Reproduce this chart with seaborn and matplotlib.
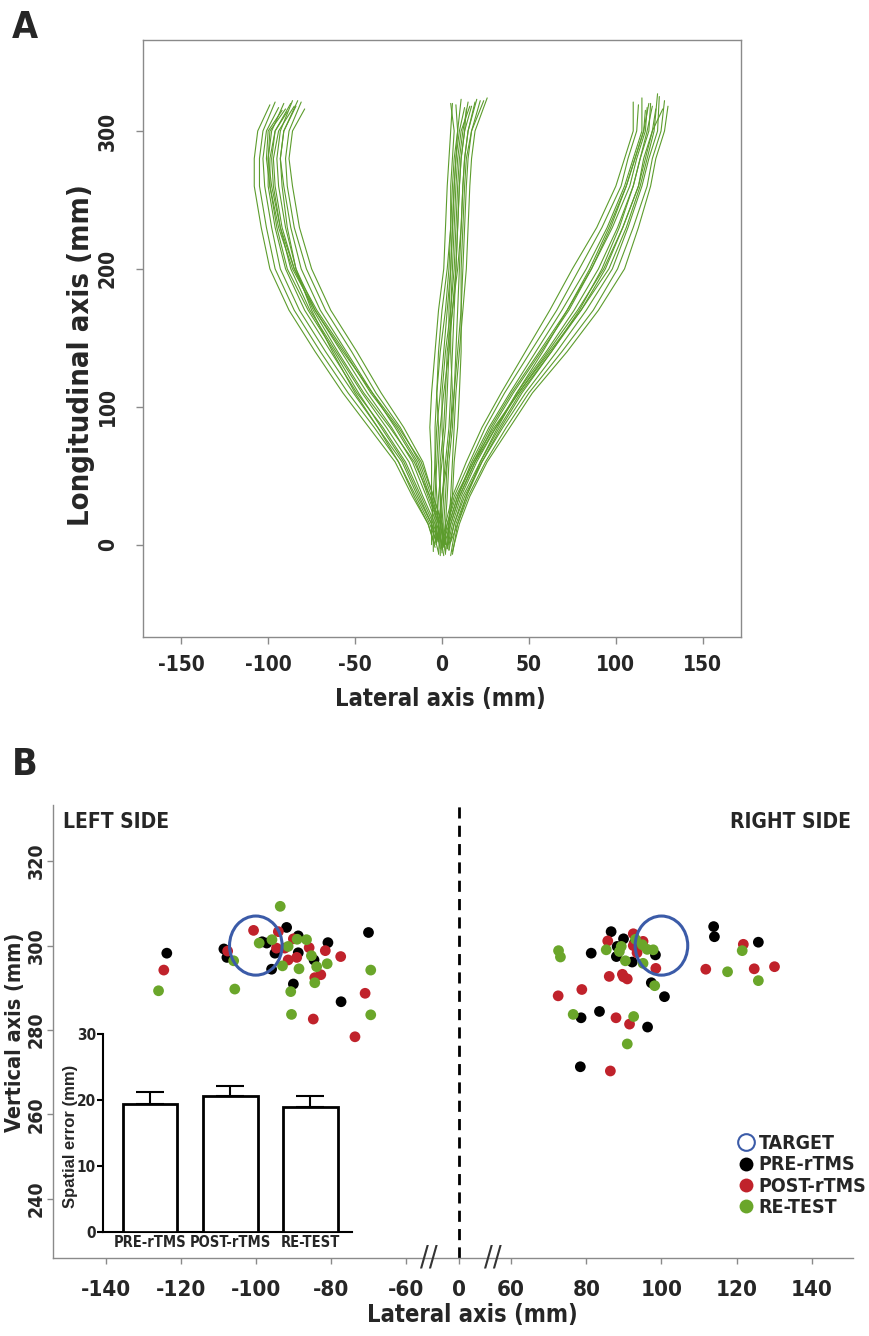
import numpy as np
import pandas as pd
import matplotlib
matplotlib.use('Agg')
import matplotlib.pyplot as plt
import matplotlib.font_manager as fm
from matplotlib.patches import Circle
from matplotlib.lines import Line2D
from matplotlib import transforms
import seaborn as sns

# ---------------- panel A: hand trajectories (mm), x read at shared heights
Y_LEVELS = [0, 15, 35, 60, 85, 110, 140, 170, 200, 230, 260, 280, 300, 318]
START_Y = [-5, 2, -8, 0, -3, 3, -6, 1, -2, -7, 0, -4, 2, -1]

LEFT_X = [
    [2, 0, -5, -11, -22, -35, -49, -64, -75, -82, -86, -88, -86, -79],
    [1, -1, -6, -13, -24, -38, -52, -67, -78, -85, -89, -90, -88, -81],
    [1, -2, -8, -15, -27, -40, -55, -70, -81, -87, -91, -93, -91, -84],
    [0, -3, -9, -17, -29, -43, -58, -73, -84, -90, -94, -95, -93, -86],
    [-1, -4, -11, -19, -32, -46, -61, -76, -87, -93, -97, -98, -96, -89],
    [-2, -5, -12, -21, -34, -49, -64, -79, -90, -96, -100, -100, -98, -91],
    [-2, -6, -14, -23, -37, -51, -67, -82, -93, -98, -102, -103, -101, -94],
    [-3, -7, -15, -25, -39, -54, -70, -85, -96, -101, -105, -105, -103, -96],
    [-4, -8, -17, -27, -42, -57, -73, -88, -99, -104, -108, -108, -106, -99],
    [2, 0, -5, -12, -25, -40, -57, -73, -86, -94, -99, -101, -100, -92],
    [-4, -8, -16, -25, -37, -50, -63, -75, -84, -89, -92, -93, -91, -83],
    [0, -2, -7, -16, -30, -45, -60, -74, -85, -92, -96, -97, -94, -85],
    [-2, -6, -13, -22, -35, -48, -62, -77, -89, -95, -99, -99, -96, -87],
    [1, -1, -7, -14, -26, -41, -56, -72, -85, -93, -98, -100, -99, -90],
]
LEFT_END = [316, 321, 318, 322, 314, 320, 317, 321, 319, 315, 322, 318, 320, 316]

MID_X = [
    [-5, -5, -6, -6, -7, -6, -4, -2, 1, 2, 3, 4, 5, 6],
    [-3, -4, -4, -3, -2, -3, -2, 0, 3, 5, 6, 7, 9, 11],
    [-1, -1, 0, 2, 4, 5, 6, 7, 8, 9, 10, 11, 13, 17],
    [2, 2, 3, 4, 6, 7, 9, 11, 12, 13, 14, 15, 17, 22],
    [3, 4, 5, 6, 7, 8, 10, 12, 14, 15, 16, 17, 19, 26],
    [-2, -2, -3, -4, -3, -1, 1, 3, 5, 6, 7, 8, 10, 13],
    [0, 0, 1, 1, 0, 0, 2, 5, 7, 8, 9, 10, 12, 15],
    [-4, -3, -2, 0, 2, 3, 4, 4, 5, 6, 7, 8, 9, 8],
    [1, 1, 2, 3, 5, 7, 8, 9, 10, 11, 12, 13, 15, 20],
    [-2, -1, -1, -2, -1, 1, 4, 6, 8, 9, 10, 11, 13, 14],
    [-6, -6, -5, -4, -4, -3, -1, 2, 4, 5, 5, 6, 7, 5],
    [4, 4, 6, 7, 9, 10, 11, 11, 11, 12, 13, 14, 17, 24],
    [-3, -2, 0, 3, 5, 6, 5, 5, 6, 7, 8, 9, 11, 16],
    [1, 0, -1, -1, 1, 2, 3, 6, 9, 11, 12, 13, 15, 19],
]
MID_END = [320, 323, 318, 322, 324, 317, 321, 319, 323, 316, 320, 322, 318, 321]

RIGHT_X = [
    [6, 10, 16, 26, 39, 52, 72, 90, 105, 113, 120, 123, 128, 130],
    [5, 9, 15, 25, 37, 50, 69, 87, 101, 110, 118, 121, 126, 128],
    [5, 8, 14, 23, 35, 48, 66, 83, 98, 107, 115, 119, 124, 125],
    [4, 7, 12, 22, 33, 45, 63, 80, 94, 104, 113, 116, 121, 123],
    [3, 6, 11, 20, 31, 43, 60, 76, 90, 101, 110, 114, 119, 120],
    [2, 5, 10, 19, 29, 41, 57, 73, 86, 98, 108, 112, 117, 118],
    [2, 4, 9, 17, 27, 39, 54, 69, 83, 95, 105, 110, 115, 115],
    [1, 3, 7, 16, 25, 36, 51, 66, 79, 92, 103, 107, 112, 113],
    [0, 2, 6, 14, 23, 34, 48, 62, 75, 89, 100, 105, 110, 110],
    [6, 9, 14, 22, 32, 43, 58, 72, 85, 96, 106, 111, 116, 117],
    [0, 3, 8, 18, 30, 44, 62, 80, 96, 106, 114, 118, 122, 124],
    [4, 7, 13, 23, 34, 46, 63, 79, 92, 102, 110, 114, 118, 121],
    [1, 4, 9, 18, 28, 40, 56, 72, 86, 97, 106, 111, 116, 119],
    [3, 5, 10, 19, 31, 44, 61, 78, 93, 104, 113, 117, 121, 127],
]
RIGHT_END = [318, 322, 325, 316, 320, 317, 324, 319, 321, 315, 327, 318, 320, 316]

# ---------------- panel B: end points (lateral mm, vertical mm)
PRE_X = [-123.7, -108.5, -107.7, -98.3, -97.1, -91.8, -88.7, -94.9, -95.8, -88.7, -84.5, -80.8,
         -90.0, -77.3, -70.0,
         86.6, 89.9, 88.2, 81.3, 88.0, 92.2, 98.4, 97.3, 100.8, 83.5, 78.6, 96.3, 113.9, 114.1,
         125.8, 92.8, 78.4]
PRE_Y = [298.2, 299.2, 297.2, 300.9, 300.6, 304.3, 302.3, 298.2, 294.4, 298.3, 296.6, 300.7,
         290.9, 286.7, 303.1,
         303.3, 301.6, 299.8, 298.2, 297.4, 296.1, 297.8, 291.2, 287.9, 284.4, 282.9, 280.7, 304.5,
         302.1, 300.8, 300.6, 271.3]
POST_X = [-124.5, -100.6, -107.5, -94.0, -90.0, -92.3, -89.1, -91.4, -85.8, -81.5, -77.4, -84.3,
          -82.7, -70.9, -84.7, -94.5, -73.6,
          85.7, 92.5, 92.5, 95.1, 93.5, 98.5, 86.1, 89.6, 89.9, 90.9, 78.8, 72.5, 87.9, 91.5,
          111.8, 121.8, 124.7, 130.1, 86.4]
POST_Y = [294.2, 303.6, 298.7, 303.3, 301.6, 299.4, 297.2, 296.6, 299.5, 298.8, 297.4, 292.4,
          293.1, 288.7, 282.6, 299.4, 278.4,
          301.1, 302.8, 300.0, 301.0, 298.3, 294.6, 292.7, 293.2, 292.6, 292.1, 289.6, 288.1, 282.9,
          281.4, 294.4, 300.3, 294.5, 295.0, 270.3]
RETEST_X = [-93.5, -125.9, -105.6, -105.9, -99.1, -95.7, -91.4, -89.0, -86.5, -85.2, -83.8, -81.0,
            -92.9, -88.5, -84.3, -90.7, -90.5, -69.4, -69.4,
            72.6, 73.1, 85.3, 89.3, 88.8, 90.4, 93.1, 94.9, 96.2, 97.8, 95.1, 98.2, 76.5, 92.6,
            117.6, 121.5, 125.8, 90.9]
RETEST_Y = [309.3, 289.3, 289.7, 296.4, 300.6, 301.4, 299.8, 301.5, 301.4, 297.6, 295.0, 295.7,
            295.2, 294.5, 291.2, 289.1, 283.7, 294.2, 283.6,
            298.8, 297.3, 299.0, 299.8, 298.6, 296.4, 301.5, 300.2, 299.1, 299.0, 295.8, 290.5, 283.7,
            283.2, 293.8, 298.8, 291.7, 276.7]
TARGET_X = [-100, 100]
TARGET_Y = [300, 300]
TARGET_R = 7

SESSIONS = ['PRE-rTMS', 'POST-rTMS', 'RE-TEST']
BAR_MEANS = [19.4, 20.6, 19.0]
BAR_SEM = [1.8, 1.5, 1.6]

GREEN_LINE = '#5c9c2c'
PALETTE = {'PRE-rTMS': '#000000', 'POST-rTMS': '#c0222b', 'RE-TEST': '#6aa62a'}
BLUE = '#3b5ba8'
GRAY = '#8a8a8a'

sns.set_style('white')
avail = {f.name for f in fm.fontManager.ttflist}
NARROW = 'Liberation Sans Narrow' if 'Liberation Sans Narrow' in avail else 'DejaVu Sans'
ARIAL = 'Liberation Sans' if 'Liberation Sans' in avail else 'DejaVu Sans'
plt.rcParams['font.family'] = [NARROW, 'DejaVu Sans']
plt.rcParams['font.weight'] = 'bold'
plt.rcParams['font.stretch'] = 'condensed'
plt.rcParams['axes.unicode_minus'] = False

W, H = 870, 1336
fig = plt.figure(figsize=(W / 100, H / 100), dpi=100)


def box(l, t, r, b):
    return [l / W, 1 - b / H, (r - l) / W, (b - t) / H]


# ================= A
ax_a = fig.add_axes(box(143, 40, 741, 637))
rows = []
for name, xs_list, ends in [('L', LEFT_X, LEFT_END), ('M', MID_X, MID_END), ('R', RIGHT_X, RIGHT_END)]:
    for i, xs in enumerate(xs_list):
        ys = [START_Y[i]] + Y_LEVELS[1:-1] + [ends[i]]
        for x, y in zip(xs, ys):
            rows.append((name + str(i), x, y))
traj = pd.DataFrame(rows, columns=['trial', 'x', 'y'])
sns.lineplot(data=traj, x='x', y='y', units='trial', estimator=None, sort=False,
             color=GREEN_LINE, linewidth=0.8, legend=False, ax=ax_a)
ax_a.set_xlim(-172, 172)
ax_a.set_ylim(-67, 366)
ax_a.set_xticks([-150, -100, -50, 0, 50, 100, 150])
ax_a.set_yticks([0, 100, 200, 300])
for s in ax_a.spines.values():
    s.set_color(GRAY)
    s.set_linewidth(1)
ax_a.tick_params(axis='both', direction='out', length=5, width=1, color=GRAY, labelsize=15,
                 left=True, bottom=True)
ax_a.tick_params(axis='x', pad=8)
ax_a.tick_params(axis='y', pad=13, labelrotation=90)
for lbl in ax_a.get_yticklabels():
    lbl.set_va('center')
ax_a.set_xlabel('Lateral axis (mm)', fontsize=17, fontweight='bold')
ax_a.set_ylabel('Longitudinal axis (mm)', fontsize=21, fontweight='bold')
ax_a.xaxis.set_label_coords(0.498, -0.083)
ax_a.yaxis.set_label_coords(-0.08, 0.472)
fig.text(12 / W, 1 - 38 / H, 'A', fontsize=27, fontweight='bold', va='baseline')

# ================= B
ax_b = fig.add_axes(box(53, 805, 853, 1258))


def fwd(x):
    x = np.asarray(x, float)
    return np.where(x <= -50, x + 46, np.where(x >= 50, x - 46, x * 0.08))


def inv(p):
    p = np.asarray(p, float)
    return np.where(p <= -4, p - 46, np.where(p >= 4, p + 46, p / 0.08))


ax_b.set_xscale('function', functions=(fwd, inv))
pts = pd.concat([
    pd.DataFrame({'x': PRE_X, 'y': PRE_Y, 'session': 'PRE-rTMS'}),
    pd.DataFrame({'x': POST_X, 'y': POST_Y, 'session': 'POST-rTMS'}),
    pd.DataFrame({'x': RETEST_X, 'y': RETEST_Y, 'session': 'RE-TEST'}),
], ignore_index=True)
sns.scatterplot(data=pts, x='x', y='y', hue='session', palette=PALETTE, s=60,
                linewidth=0, legend=False, ax=ax_b, zorder=3)
for tx, ty in zip(TARGET_X, TARGET_Y):
    ax_b.add_patch(Circle((tx, ty), TARGET_R, fill=False, edgecolor=BLUE, linewidth=2.2, zorder=4))
ax_b.axvline(0, color='black', linewidth=2, dashes=(4, 2.6), zorder=2)
ax_b.set_xlim(-154, 151)
ax_b.set_ylim(226, 333.3)
ax_b.set_xticks([-140, -120, -100, -80, -60, 0, 60, 80, 100, 120, 140])
ax_b.set_xticklabels(['-140', '-120', '-100', '-80', '-60', '0', '60', '80', '100', '120', '140'])
ax_b.set_yticks([240, 260, 280, 300, 320])
sns.despine(ax=ax_b)
for k in ['left', 'bottom']:
    ax_b.spines[k].set_color(GRAY)
    ax_b.spines[k].set_linewidth(1)
ax_b.tick_params(axis='both', direction='out', length=4.5, width=1, color=GRAY,
                 left=True, bottom=True)
ax_b.tick_params(axis='x', labelsize=16, pad=11)
ax_b.tick_params(axis='y', labelsize=14, pad=0.5, labelrotation=90)
for lbl in ax_b.get_yticklabels():
    lbl.set_va('center')
ax_b.set_xlabel('Lateral axis (mm)', fontsize=17, fontweight='bold')
ax_b.set_ylabel('Vertical axis (mm)', fontsize=15.5, fontweight='bold')
ax_b.xaxis.set_label_coords(0.524, -0.1)
ax_b.yaxis.set_label_coords(-0.035, 0.499)

# axis break marks
brk = transforms.blended_transform_factory(ax_b.transData, ax_b.transAxes)
for xb in [-54, 55]:
    ax_b.text(xb, 0, '//', transform=brk, ha='center', va='center', fontsize=21,
              fontweight='normal', color='#333333', clip_on=False)

ax_b.text(0.012, 0.985, 'LEFT SIDE', transform=ax_b.transAxes, fontsize=15, va='top', ha='left')
ax_b.text(0.997, 0.985, 'RIGHT SIDE', transform=ax_b.transAxes, fontsize=15, va='top', ha='right')

handles = [Line2D([], [], ls='', marker='o', markersize=12, markerfacecolor='none',
                  markeredgecolor=BLUE, markeredgewidth=1.5)]
for sname in SESSIONS:
    handles.append(Line2D([], [], ls='', marker='o', markersize=10,
                          markerfacecolor=PALETTE[sname], markeredgewidth=0))
ax_b.legend(handles, ['TARGET'] + SESSIONS, loc='upper left',
            bbox_to_anchor=(737 / W, 1 - 1134 / H), bbox_transform=fig.transFigure,
            frameon=False, fontsize=14, handlelength=0.9, handletextpad=0.2,
            labelspacing=0.12, borderpad=0, borderaxespad=0)

fig.text(12 / W, 1 - 775 / H, 'B', fontsize=27, fontweight='bold', va='baseline')

# ================= inset bars
ax_in = fig.add_axes(box(103, 1034, 352, 1232))
ax_in.patch.set_alpha(0)
sns.barplot(x=SESSIONS, y=BAR_MEANS, color='white', edgecolor='black', linewidth=2,
            width=0.68, errorbar=None, ax=ax_in, zorder=3)
ax_in.errorbar(range(3), BAR_MEANS, yerr=[[0, 0, 0], BAR_SEM], fmt='none', ecolor='black',
               elinewidth=1.5, capsize=10, capthick=1.5, zorder=2)
ax_in.set_xlim(-0.59, 2.52)
ax_in.set_ylim(0, 30)
ax_in.set_yticks([0, 10, 20, 30])
sns.despine(ax=ax_in)
for k in ['left', 'bottom']:
    ax_in.spines[k].set_color('black')
    ax_in.spines[k].set_linewidth(1.5)
ax_in.tick_params(axis='y', direction='out', length=4, width=1.5, color='black', labelsize=11,
                  pad=1, left=True)
ax_in.tick_params(axis='x', length=0, labelsize=10.5, pad=2)
ax_in.set_ylabel('Spatial error (mm)', fontsize=12, fontweight='bold', family=[ARIAL, 'DejaVu Sans'],
                 fontstretch='normal')
ax_in.yaxis.set_label_coords(-0.1, 0.485)
ax_in.set_xlabel('')

fig.savefig('out.png', dpi=100)
